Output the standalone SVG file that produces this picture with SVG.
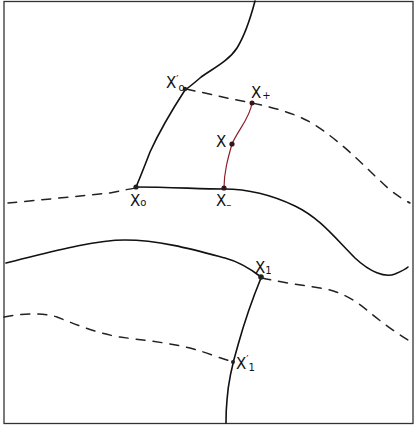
<svg xmlns="http://www.w3.org/2000/svg" width="415" height="427" viewBox="0 0 415 427">
<style>
.solid{fill:none;stroke:#111;stroke-width:1.6;stroke-linecap:round;stroke-linejoin:round}
.dash{fill:none;stroke:#222;stroke-width:1.5;stroke-dasharray:9 8;stroke-linecap:round}
.red{fill:none;stroke:#8a1f2c;stroke-width:1.2}
.dot{fill:#222}
.rdot{fill:#3a1218}
text{font-family:"DejaVu Sans",sans-serif;font-size:15px;fill:#111}
.sub{font-size:10px}
</style>
<rect x="0" y="0" width="415" height="427" fill="#fff"/>
<rect x="4" y="1.5" width="409" height="422" fill="none" stroke="#333" stroke-width="1.3"/>
<g id="connectors">
  <path class="solid" d="M255,1 C250,20 245,35 237,48 C228,62 210,70 200,78 C193,84 188,88 185,90 C172,110 160,130 150,152 C145,165 140,178 136,187"/>
  <path class="solid" d="M136,187 C170,187 200,189 224,189 C245,189 270,194 295,206 C320,218 335,238 355,258 C370,272 385,278 395,274 C402,271 406,269 408,267"/>
  <path class="dash" d="M8,203 C40,200 80,196 110,193 C120,191 128,189 136,188"/>
  <path class="dash" d="M186,89 C210,94 230,99 252,103 C280,109 305,116 325,132 C350,150 370,172 390,190 C398,196 404,200 410,203"/>
  <path class="red" d="M252,103 C250,118 238,130 232,144 C228,158 224,172 224,188"/>
  <path class="solid" d="M6,263 C40,255 90,240 125,240 C160,240 195,250 225,258 C240,262 252,270 261,277"/>
  <path class="solid" d="M261,278 C254,295 245,320 238,345 C232,365 228,385 227,400 C226,410 226,418 226,423"/>
  <path class="dash" d="M262,278 C280,282 300,285 320,288 C340,291 355,300 368,311 C380,321 395,332 408,340"/>
  <path class="dash" d="M4,317 C20,314 40,312 57,317 C75,324 95,333 120,337 C140,340 165,342 190,348 C205,352 220,358 233,362"/>
</g>
<g id="x0p"><circle class="dot" cx="185" cy="89" r="2.2"/><text x="166" y="88">X<tspan class="sub" dy="-5">′</tspan><tspan class="sub" dy="8">o</tspan></text></g>
<g id="xplus"><circle class="rdot" cx="252" cy="103" r="2.5"/><text x="251" y="98">X<tspan class="sub" dx="1" dy="1">+</tspan></text></g>
<g id="x"><circle class="rdot" cx="232" cy="144" r="2.6"/><text x="216" y="147">X</text></g>
<g id="xminus"><circle class="rdot" cx="224" cy="188" r="2.6"/><text x="216" y="206">X<tspan class="sub" dy="2">–</tspan></text></g>
<g id="x0"><circle class="dot" cx="136" cy="187" r="2.6"/><text x="130" y="206">X<tspan class="sub" dy="0">o</tspan></text></g>
<g id="x1"><circle class="dot" cx="261" cy="277" r="2.8"/><text x="255" y="273">X<tspan class="sub" dy="1">1</tspan></text></g>
<g id="x1p"><circle class="dot" cx="233" cy="362" r="2"/><text x="236" y="369">X<tspan class="sub" dy="-6">′</tspan><tspan class="sub" dy="8">1</tspan></text></g>
</svg>
